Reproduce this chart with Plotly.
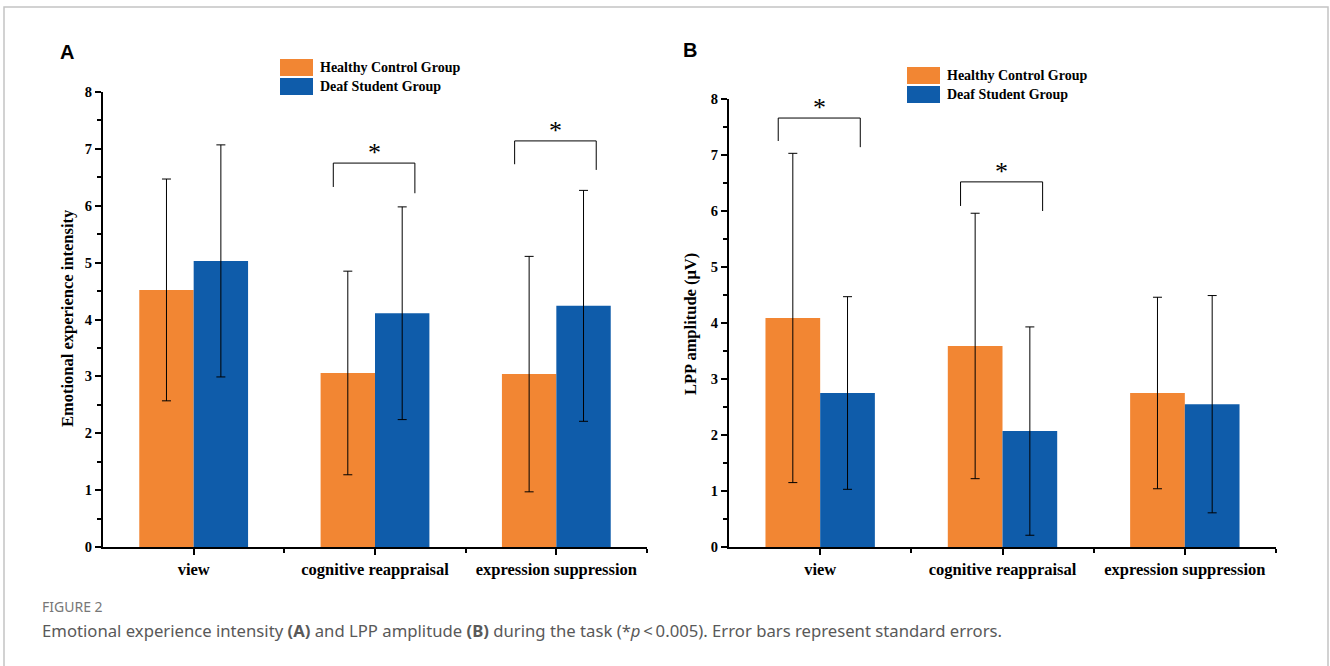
import plotly.graph_objects as go

W, H = 1330, 666

categories = ["view", "cognitive reappraisal", "expression suppression"]
groups = ["Healthy Control Group", "Deaf Student Group"]
colors = ["#F28633", "#0F5CAA"]

# Panel A: Emotional experience intensity
a_control = [4.52, 3.06, 3.04]
a_control_err = [1.95, 1.79, 2.07]
a_deaf = [5.03, 4.11, 4.24]
a_deaf_err = [2.04, 1.87, 2.03]

# Panel B: LPP amplitude
b_control = [4.09, 3.59, 2.75]
b_control_err = [2.94, 2.37, 1.71]
b_deaf = [2.75, 2.07, 2.55]
b_deaf_err = [1.72, 1.86, 1.94]

# significance brackets: (category index, top, left leg bottom, right leg bottom)
a_sig = [(1, 6.75, 6.33, 6.22), (2, 7.14, 6.73, 6.63)]
b_sig = [(0, 7.66, 7.25, 7.14), (1, 6.52, 6.09, 6.00)]

xpos = list(range(len(categories)))

def px(x):
    return x / W

def py(y):
    return 1 - y / H

fig = go.Figure()

def add_bars(vals, errs, name, color, xa, ya, og):
    fig.add_trace(go.Bar(
        x=xpos, y=vals, name=name, offsetgroup=og,
        marker=dict(color=color, line=dict(width=0)),
        error_y=dict(type="data", array=errs, visible=True,
                     color="black", thickness=1, width=4.5),
        xaxis=xa, yaxis=ya, showlegend=False,
    ))

add_bars(a_control, a_control_err, groups[0], colors[0], "x", "y", "c")
add_bars(a_deaf, a_deaf_err, groups[1], colors[1], "x", "y", "d")
add_bars(b_control, b_control_err, groups[0], colors[0], "x2", "y2", "c")
add_bars(b_deaf, b_deaf_err, groups[1], colors[1], "x2", "y2", "d")

tickfont = dict(family="Liberation Serif", size=14.5, color="black", weight="bold")
catfont = dict(family="Liberation Serif", size=16.5, color="black", weight="bold")

xcommon = dict(
    range=[-0.5, 2.5], tickmode="array", tickvals=xpos, ticktext=categories,
    showline=True, linecolor="black", linewidth=2, ticks="outside",
    ticklen=6, tickwidth=1.5, tickcolor="black", tickfont=catfont,
    showgrid=False, zeroline=False, fixedrange=True, automargin=False,
    minor=dict(ticks="outside", tickvals=[0.5, 1.5, 2.5], ticklen=4,
               tickwidth=1.5, tickcolor="black"),
)
ycommon = dict(
    range=[0, 8], dtick=1, tick0=0,
    showline=True, linecolor="black", linewidth=2, ticks="outside",
    ticklen=6, tickwidth=1.5, tickcolor="black", tickfont=tickfont,
    showgrid=False, zeroline=False, fixedrange=True, automargin=False,
    minor=dict(ticks="outside", dtick=0.5, ticklen=4, tickwidth=1.5, tickcolor="black"),
)

fig.update_layout(
    width=W, height=H, margin=dict(l=0, r=0, t=0, b=0, pad=0, autoexpand=False),
    paper_bgcolor="white", plot_bgcolor="white",
    barmode="group", bargap=0.4, bargroupgap=0,
    xaxis=dict(domain=[px(103), px(647)], anchor="y", **xcommon),
    yaxis=dict(domain=[py(547), py(92)], anchor="x", **ycommon),
    xaxis2=dict(domain=[px(729), px(1276)], anchor="y2", **xcommon),
    yaxis2=dict(domain=[py(547), py(99)], anchor="x2", **ycommon),
)

shapes = []
annotations = []

# significance brackets
def bracket(sig, xa, ya):
    for (ci, top, lb, rb) in sig:
        xl, xr = ci - 0.23, ci + 0.22
        shapes.append(dict(type="path", xref=xa, yref=ya,
                           path=f"M {xl} {lb} L {xl} {top} L {xr} {top} L {xr} {rb}",
                           line=dict(color="black", width=1)))
        annotations.append(dict(x=(xl + xr) / 2, y=top, xref=xa, yref=ya,
                                text="*", showarrow=False, yanchor="bottom",
                                yshift=-6,
                                font=dict(family="Liberation Serif", size=26, color="black")))

bracket(a_sig, "x", "y")
bracket(b_sig, "x2", "y2")

# legends
def legend(x0, y0):
    for i, (g, c) in enumerate(zip(groups, colors)):
        top = y0 + i * 19
        shapes.append(dict(type="rect", xref="paper", yref="paper",
                           x0=px(x0), x1=px(x0 + 33), y0=py(top), y1=py(top + 17),
                           fillcolor=c, line=dict(width=0)))
        annotations.append(dict(x=px(x0 + 38), y=py(top + 8.5), xref="paper", yref="paper",
                                text=g, showarrow=False, xanchor="left", yanchor="middle",
                                font=dict(family="Liberation Serif", size=14,
                                          color="black", weight="bold")))

legend(280, 59)
legend(907, 67)

# panel letters
for letter, x, y in [("A", 67, 52), ("B", 690, 50)]:
    annotations.append(dict(x=px(x), y=py(y), xref="paper", yref="paper", text=letter,
                            showarrow=False, xanchor="center", yanchor="middle",
                            font=dict(family="Liberation Sans", size=20, color="black",
                                      weight="bold")))

# y titles
for t, x, y in [("Emotional experience intensity", 67, 318), ("LPP amplitude (μV)", 690, 324)]:
    annotations.append(dict(x=px(x), y=py(y), xref="paper", yref="paper", text=t,
                            textangle=-90, showarrow=False, xanchor="center", yanchor="middle",
                            font=dict(family="Liberation Serif", size=16.5, color="black",
                                      weight="bold")))

# caption
annotations.append(dict(x=px(40), y=py(606), xref="paper", yref="paper", text="FIGURE 2",
                        showarrow=False, xanchor="left", yanchor="middle",
                        font=dict(family="Noto Sans", size=14, color="#777777")))
annotations.append(dict(x=px(40), y=py(630), xref="paper", yref="paper",
                        text="Emotional experience intensity <b>(A)</b> and LPP amplitude <b>(B)</b> "
                             "during the task (*<i>p</i>\u2009&lt;\u20090.005). Error bars represent standard errors.",
                        showarrow=False, xanchor="left", yanchor="middle",
                        font=dict(family="Noto Sans", size=16.7, color="#595959")))

# frame
shapes.append(dict(type="rect", xref="paper", yref="paper",
                   x0=px(4), x1=px(1328), y0=py(700), y1=py(7),
                   line=dict(color="#c4c4c4", width=1.5), fillcolor="rgba(0,0,0,0)", layer="below"))

fig.update_layout(shapes=shapes, annotations=annotations)

fig.write_html("out.html", config={"displayModeBar": False},
               post_script="document.body.style.margin='0';document.body.style.padding='0';")
